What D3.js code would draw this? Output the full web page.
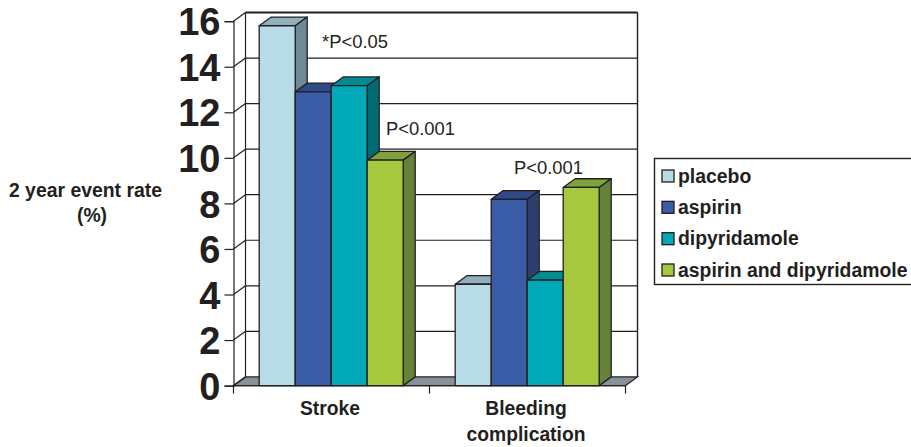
<!DOCTYPE html>
<html><head><meta charset="utf-8">
<script src="https://cdn.jsdelivr.net/npm/d3@7"></script>
<style>html,body{margin:0;padding:0;background:#fff}svg{display:block}text{font-family:"Liberation Sans",Arial,sans-serif;fill:#231f20}</style>
</head><body><svg id="c" width="911" height="447"></svg>
<script>
const groups = ["Stroke","Bleeding complication"];
const groupLines = [["Stroke"],["Bleeding","complication"]];
const seriesNames = ["placebo","aspirin","dipyridamole","aspirin and dipyridamole"];
const placebo = [15.8,4.45];
const aspirin = [12.9,8.18];
const dipyridamole = [13.17,4.63];
const combo = [9.9,8.7];
const seriesValues = [placebo,aspirin,dipyridamole,combo];
const frontColors = ["#b7dce8","#3a5ba6","#00a8b8","#a6c83e"];
const topColors = ["#8fb0bc","#2f4a88","#008a94","#7fa23a"];
const sideColors = ["#6e8a94","#2e3f6e","#006c72","#648238"];
const yTicks = d3.range(0,17,2);
const notes = [["*P<0.05",322,47.5],["P<0.001",386,135],["P<0.001",514,174]];
const titleLines = [["2 year event rate",85.5],["(%)",92]];

const svg = d3.select("#c");
const ink = "#231f20";
const dx = 12, dy = -8.7;
const y = d3.scaleLinear().domain([0,16]).range([385.6,21.2]);
const x0 = d3.scaleBand().domain(groups).range([233.5,625.5]);
const x1 = d3.scaleBand().domain(seriesNames).range([25.7,169.7]);
const pts = a => a.map(p=>p.join(",")).join(" ");

// floor
const bx = x0.range()[0], ex = x0.range()[1];
svg.append("polygon").attr("points",pts([[bx,y(0)],[bx+dx,y(0)+dy],[ex+dx,y(0)+dy],[ex,y(0)]]))
  .attr("fill","#87929b").attr("stroke",ink).attr("stroke-width",1.2);

// back wall
const wall = svg.append("g").attr("stroke",ink).attr("fill","none");
wall.selectAll("line.g").data(yTicks.slice(1)).join("line").attr("class","g")
  .attr("x1",bx+dx).attr("x2",ex+dx).attr("y1",d=>y(d)+dy).attr("y2",d=>y(d)+dy)
  .attr("stroke-width",d=>d===16?2:1.2);
wall.selectAll("line.d").data(yTicks).join("line").attr("class","d")
  .attr("x1",bx).attr("x2",bx+dx).attr("y1",d=>y(d)).attr("y2",d=>y(d)+dy).attr("stroke-width",1.2);
wall.append("line").attr("x1",bx+dx).attr("x2",bx+dx).attr("y1",y(16)+dy).attr("y2",y(0)+dy).attr("stroke-width",1.2);
wall.append("line").attr("x1",ex+dx).attr("x2",ex+dx).attr("y1",y(16)+dy).attr("y2",y(0)+dy).attr("stroke-width",1.4);

// axes
const yAxis = d3.axisLeft(y).tickValues(yTicks).tickSize(9).tickPadding(4);
const gy = svg.append("g").attr("transform",`translate(${bx},0)`).call(yAxis);
gy.selectAll("text").attr("font-size",38).attr("font-weight","bold").attr("dy","0.36em");
gy.selectAll("line,path").attr("stroke",ink).attr("stroke-width",1.2);

const xAxisG = svg.append("g").attr("stroke",ink).attr("stroke-width",1.2);
xAxisG.append("line").attr("x1",bx).attr("x2",ex).attr("y1",y(0)).attr("y2",y(0));
xAxisG.selectAll("line.t").data([bx,...groups.map(g=>x0(g)+x0.bandwidth())]).join("line").attr("class","t")
  .attr("x1",d=>d).attr("x2",d=>d).attr("y1",y(0)).attr("y2",y(0)+8);

// bars
const bars = svg.append("g");
groups.forEach((g,gi)=>{
  seriesNames.forEach((s,si)=>{
    const v = seriesValues[si][gi];
    const l = x0(g)+x1(s), w = x1.bandwidth(), r = l+w, t = y(v), b = y(0);
    const o = {stroke:ink,"stroke-width":1.3,"stroke-linejoin":"round"};
    const add = (p,f)=>{const e=bars.append("polygon").attr("points",pts(p)).attr("fill",f);
      Object.entries(o).forEach(([k,val])=>e.attr(k,val));};
    add([[l,t],[l+dx,t+dy],[r+dx,t+dy],[r,t]],topColors[si]);
    add([[r,t],[r+dx,t+dy],[r+dx,b+dy],[r,b]],sideColors[si]);
    add([[l,t],[r,t],[r,b],[l,b]],frontColors[si]);
  });
});

// category labels
groups.forEach((g,gi)=>{
  svg.append("g").selectAll("text").data(groupLines[gi]).join("text")
    .attr("x",x0(g)+x0.bandwidth()/2-1.5).attr("y",(d,i)=>415+i*26)
    .attr("text-anchor","middle").attr("font-size",19.3).attr("font-weight","bold").text(d=>d);
});

// y title
svg.append("g").selectAll("text").data(titleLines).join("text")
  .attr("x",d=>d[1]).attr("y",(d,i)=>197+i*25).attr("text-anchor","middle")
  .attr("font-size",19.4).attr("font-weight","bold").text(d=>d[0]);

// notes
svg.append("g").selectAll("text").data(notes).join("text")
  .attr("x",d=>d[1]).attr("y",d=>d[2]).attr("font-size",18.4).attr("fill","#333").text(d=>d[0]);

// legend
svg.append("rect").attr("x",654.5).attr("y",158.5).attr("width",258).attr("height",126)
  .attr("fill","#fff").attr("stroke",ink).attr("stroke-width",1.4);
const ly = d3.scalePoint().domain(seriesNames).range([176,270]);
const lg = svg.append("g").selectAll("g").data(seriesNames).join("g")
  .attr("transform",d=>`translate(0,${ly(d)})`);
lg.append("rect").attr("x",662).attr("y",-6).attr("width",12).attr("height",12)
  .attr("fill",(d,i)=>frontColors[i]).attr("stroke",ink).attr("stroke-width",1.3);
lg.append("text").attr("x",678).attr("y",6.5).attr("font-size",19.4).attr("font-weight","bold").text(d=>d);
</script></body></html>
